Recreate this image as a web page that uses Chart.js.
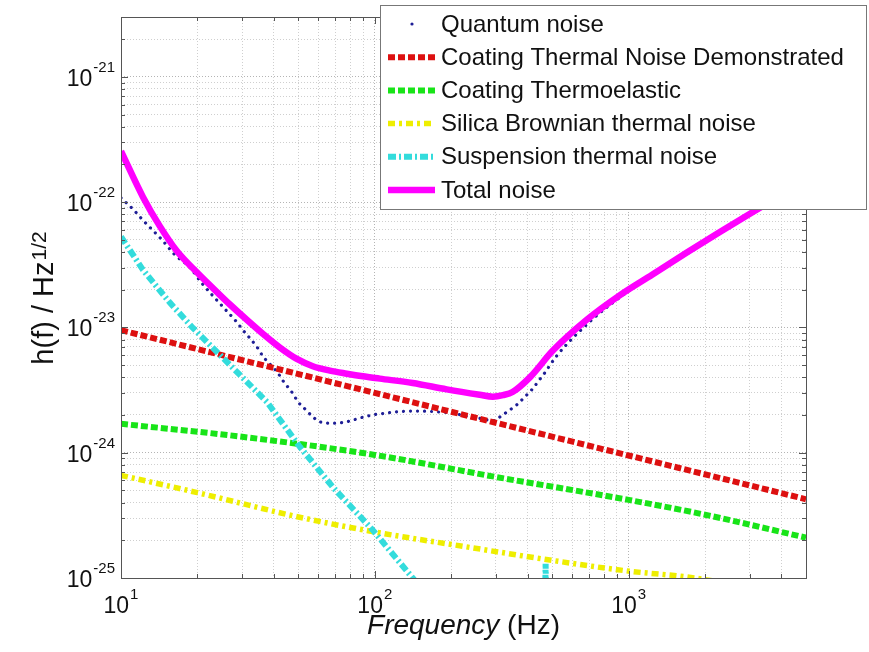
<!DOCTYPE html>
<html>
<head>
<meta charset="utf-8">
<script src="https://cdn.jsdelivr.net/npm/chart.js@4.4.1/dist/chart.umd.min.js"></script>
<style>
    html, body { margin: 0; padding: 0; background: #fff; }
    #wrap { width: 869px; height: 652px; }
</style>
</head>
<body>
<div id="wrap"><canvas id="noiseChart" width="869" height="652"></canvas></div>
<script>
/*
* Noise budget: strain h(f) against frequency, log-log
*/

//Series names (legend order)
var seriesNames = [
    'Quantum noise',
    'Coating Thermal Noise Demonstrated',
    'Coating Thermoelastic',
    'Silica Brownian thermal noise',
    'Suspension thermal noise',
    'Total noise'
];

//Quantum noise
var quantumFreq = [10, 11.2, 12.1, 14.5, 16.3, 18.7, 20.8, 25.2, 28.6, 30.2, 34.3, 36.2, 41.5, 43.8, 47.1, 49.9, 53.1, 56.6, 59.8, 63.7,
    68.4, 72.9, 79.7, 87.2, 98, 111, 125, 150, 180, 203, 230, 259, 292, 319, 340, 362, 390, 415, 439, 467, 520, 700, 1000, 1500, 2000, 3000, 5000];
var quantumValues = [1.08e-22, 8.7e-23, 7.3e-23, 5.0e-23, 3.8e-23, 3.0e-23, 2.26e-23, 1.46e-23, 1.1e-23, 9.55e-24, 7.0e-24, 5.9e-24, 4.33e-24, 3.67e-24, 3.05e-24, 2.54e-24, 2.23e-24, 1.96e-24, 1.79e-24, 1.73e-24,
    1.72e-24, 1.73e-24, 1.79e-24, 1.89e-24, 2.0e-24, 2.07e-24, 2.13e-24, 2.15e-24, 2.11e-24, 2.07e-24, 1.95e-24, 1.88e-24, 1.8e-24, 2.0e-24, 2.19e-24, 2.4e-24, 2.79e-24, 3.17e-24, 3.67e-24, 4.33e-24, 5.9e-24, 1.1e-23, 1.95e-23, 3.3e-23, 4.75e-23, 7.9e-23, 1.45e-22];

//Coating thermal noise demonstrated
var coatingFreq = [10, 100, 1000, 5000];
var coatingValues = [9.5e-24, 3.0e-24, 9.5e-25, 4.25e-25];

//Coating thermoelastic
var thermoFreq = [10, 30, 100, 300, 1000, 2000, 5000];
var thermoValues = [1.7e-24, 1.34e-24, 9.6e-25, 6.4e-25, 4.2e-25, 3.2e-25, 2.1e-25];

//Silica Brownian
var silicaFreq = [10, 20, 50, 100, 243, 458, 982, 1690, 3000];
var silicaValues = [6.6e-25, 4.8e-25, 3.07e-25, 2.33e-25, 1.74e-25, 1.42e-25, 1.14e-25, 1.02e-25, 8.5e-26];

//Suspension thermal (with violin mode near 470 Hz)
var suspFreq = [10, 12.2, 15.6, 19.2, 37.6, 50.7, 68.4, 98.2, 141, 200, 462, 471, 480];
var suspValues = [5.3e-23, 2.88e-23, 1.57e-23, 9.9e-24, 2.54e-24, 1.11e-24, 5.3e-25, 2.41e-25, 1.0e-25, 4.4e-26, 1.0e-26, 1.3e-25, 1.0e-26];

//Total noise
var totalFreq = [10, 12.2, 14.2, 16.6, 19.9, 24.5, 26.8, 31.3, 36.2, 42.3, 49.3, 57, 66.5, 77.6, 89.7, 104.7, 141, 192, 259, 292,
    320, 349, 410, 502, 684, 922, 1242, 1690, 2280, 3076, 5000];
var totalValues = [2.55e-22, 1.10e-22, 6.46e-23, 4.07e-23, 2.75e-23, 1.82e-23, 1.53e-23, 1.15e-23, 8.9e-24, 6.9e-24, 5.6e-24, 4.9e-24, 4.52e-24, 4.27e-24, 4.07e-24, 3.9e-24, 3.6e-24, 3.2e-24, 2.9e-24, 2.8e-24,
    2.88e-24, 3.05e-24, 4.03e-24, 6.5e-24, 1.15e-23, 1.8e-23, 2.64e-23, 3.94e-23, 5.75e-23, 8.3e-23, 1.48e-22];

//Axes: range, major ticks and their exponent labels
var xRange = [10, 5000];
var yRange = [1e-25, 3e-21];
var xMajorTicks = [10, 100, 1000];
var xTickExponents = ['1', '2', '3'];
var yMajorTicks = [1e-25, 1e-24, 1e-23, 1e-22, 1e-21];
var yTickExponents = ['-25', '-24', '-23', '-22', '-21'];

var FONT = '"Liberation Sans", Arial, sans-serif';

function pairs(xs, ys) {
    return xs.map(function (x, i) { return { x: x, y: ys[i] }; });
}

//1..9 x 10^n grid like matlab
function logGrid(majors, range) {
    var out = [];
    majors.forEach(function (m) {
        for (var k = 1; k < 10; k++) {
            var v = m * k;
            if (v >= range[0] && v < range[1] * 0.999) out.push({ value: v, major: k === 1 });
        }
    });
    return out;
}

function drawPower(ctx, exp, x, y, align) {
    ctx.font = '23px ' + FONT;
    var bw = ctx.measureText('10').width;
    ctx.font = '15px ' + FONT;
    var ew = ctx.measureText(exp).width;
    var left = align === 'right' ? x - bw - ew - 1 : x - (bw + ew + 1) / 2;
    ctx.font = '23px ' + FONT;
    ctx.fillText('10', left, y);
    ctx.font = '15px ' + FONT;
    ctx.fillText(exp, left + bw + 1, y - 14);
}

var axesDecor = {
    id: 'axesDecor',
    afterDatasetsDraw: function (chart) {
        var ctx = chart.ctx;
        var a = chart.chartArea;
        var xs = chart.scales.x;
        var ys = chart.scales.y;
        ctx.save();
        ctx.strokeStyle = '#555';
        ctx.lineWidth = 1;
        ctx.setLineDash([]);

        //tick marks inside the box
        ctx.beginPath();
        xs.ticks.forEach(function (t) {
            var p = Math.round(xs.getPixelForValue(t.value)) + 0.5;
            var len = t.major ? 7 : 4;
            ctx.moveTo(p, a.bottom); ctx.lineTo(p, a.bottom - len);
            ctx.moveTo(p, a.top); ctx.lineTo(p, a.top + len);
        });
        ys.ticks.forEach(function (t) {
            var p = Math.round(ys.getPixelForValue(t.value)) + 0.5;
            var len = t.major ? 7 : 4;
            ctx.moveTo(a.left, p); ctx.lineTo(a.left + len, p);
            ctx.moveTo(a.right, p); ctx.lineTo(a.right - len, p);
        });
        ctx.stroke();
        ctx.strokeRect(Math.round(a.left) + 0.5, Math.round(a.top) + 0.5, Math.round(a.right - a.left), Math.round(a.bottom - a.top));

        //tick labels 10^n
        ctx.fillStyle = '#111';
        ctx.textBaseline = 'alphabetic';
        ctx.textAlign = 'left';
        xMajorTicks.forEach(function (v, i) {
            drawPower(ctx, xTickExponents[i], xs.getPixelForValue(v), a.bottom + 35, 'center');
        });
        yMajorTicks.forEach(function (v, i) {
            drawPower(ctx, yTickExponents[i], a.left - 6, ys.getPixelForValue(v) + 9, 'right');
        });

        //x title
        ctx.font = 'italic 28px ' + FONT;
        var w1 = ctx.measureText('Frequency').width;
        ctx.font = '28px ' + FONT;
        var w2 = ctx.measureText(' (Hz)').width;
        var sx = (a.left + a.right) / 2 - (w1 + w2) / 2;
        ctx.font = 'italic 28px ' + FONT;
        ctx.fillText('Frequency', sx, a.bottom + 56);
        ctx.font = '28px ' + FONT;
        ctx.fillText(' (Hz)', sx + w1, a.bottom + 56);

        //y title h(f) / Hz^1/2
        ctx.save();
        ctx.translate(53, (a.top + a.bottom) / 2 + 1);
        ctx.rotate(-Math.PI / 2);
        ctx.font = '29px ' + FONT;
        var bw = ctx.measureText('h(f) / Hz').width;
        ctx.font = '21px ' + FONT;
        var ew = ctx.measureText('1/2').width;
        var start = -(bw + ew) / 2;
        ctx.font = '29px ' + FONT;
        ctx.fillText('h(f) / Hz', start, 0);
        ctx.font = '21px ' + FONT;
        ctx.fillText('1/2', start + bw + 1, -7);
        ctx.restore();
        ctx.restore();
    },
    afterDraw: function (chart) {
        var ctx = chart.ctx;
        ctx.save();
        //legend box over the plot
        ctx.fillStyle = '#fff';
        ctx.fillRect(380.5, 5.5, 486, 204);
        ctx.strokeStyle = '#777';
        ctx.lineWidth = 1;
        ctx.setLineDash([]);
        ctx.strokeRect(380.5, 5.5, 486, 204);
        chart.data.datasets.forEach(function (ds, i) {
            var y = 24 + i * 33.2;
            ctx.strokeStyle = ds.borderColor;
            ctx.lineWidth = ds.borderWidth;
            if (i === 0) {
                ctx.fillStyle = ds.borderColor;
                ctx.beginPath();
                ctx.arc(412, y, 1.6, 0, Math.PI * 2);
                ctx.fill();
            } else {
                ctx.setLineDash(ds.borderDash || []);
                ctx.lineCap = 'butt';
                ctx.beginPath();
                ctx.moveTo(388, y);
                ctx.lineTo(435, y);
                ctx.stroke();
                ctx.setLineDash([]);
            }
            ctx.fillStyle = '#111';
            ctx.font = '24px ' + FONT;
            ctx.textAlign = 'left';
            ctx.textBaseline = 'middle';
            ctx.fillText(ds.label, 441, y + 1);
        });
        ctx.restore();
    }
};

var gridColor = function (c) {
    return c.tick && c.tick.major ? '#b4b4b4' : '#cfcfcf';
};

var ctx = document.getElementById('noiseChart');
var myChart = new Chart(ctx, {
    type: 'line',
    data: {
        datasets: [
            { label: seriesNames[0], data: pairs(quantumFreq, quantumValues), borderColor: '#1e1e96', borderWidth: 3.2,
              borderDash: [0.01, 7], borderCapStyle: 'round', cubicInterpolationMode: 'monotone', order: 6 },
            { label: seriesNames[1], data: pairs(coatingFreq, coatingValues), borderColor: '#dd1010', borderWidth: 6,
              borderDash: [7, 3], order: 5 },
            { label: seriesNames[2], data: pairs(thermoFreq, thermoValues), borderColor: '#18e418', borderWidth: 6,
              borderDash: [7, 3], cubicInterpolationMode: 'monotone', order: 4 },
            { label: seriesNames[3], data: pairs(silicaFreq, silicaValues), borderColor: '#eeee00', borderWidth: 5.5,
              borderDash: [7, 4, 3, 4], cubicInterpolationMode: 'monotone', order: 3 },
            { label: seriesNames[4], data: pairs(suspFreq, suspValues), borderColor: '#33dcdc', borderWidth: 6,
              borderDash: [8, 3, 2, 3], order: 2 },
            { label: seriesNames[5], data: pairs(totalFreq, totalValues), borderColor: '#ff00ff', borderWidth: 6.5,
              cubicInterpolationMode: 'monotone', order: 1 }
        ]
    },
    options: {
        responsive: false,
        animation: false,
        events: [],
        layout: { padding: { left: 121, top: 17, right: 63, bottom: 74 } },
        elements: { point: { radius: 0 }, line: { tension: 0, fill: false } },
        datasets: { line: { clip: 0 } },
        plugins: { legend: { display: false }, tooltip: { enabled: false } },
        scales: {
            x: {
                type: 'logarithmic',
                min: xRange[0],
                max: xRange[1],
                afterBuildTicks: function (scale) { scale.ticks = logGrid(xMajorTicks, xRange); },
                ticks: { display: false },
                grid: { color: gridColor, lineWidth: 1, drawTicks: false },
                border: { display: false, dash: [1, 2] }
            },
            y: {
                type: 'logarithmic',
                min: yRange[0],
                max: yRange[1],
                afterBuildTicks: function (scale) { scale.ticks = logGrid(yMajorTicks, yRange); },
                ticks: { display: false },
                grid: { color: gridColor, lineWidth: 1, drawTicks: false },
                border: { display: false, dash: [1, 2] }
            }
        }
    },
    plugins: [axesDecor]
});
</script>
</body>
</html>
